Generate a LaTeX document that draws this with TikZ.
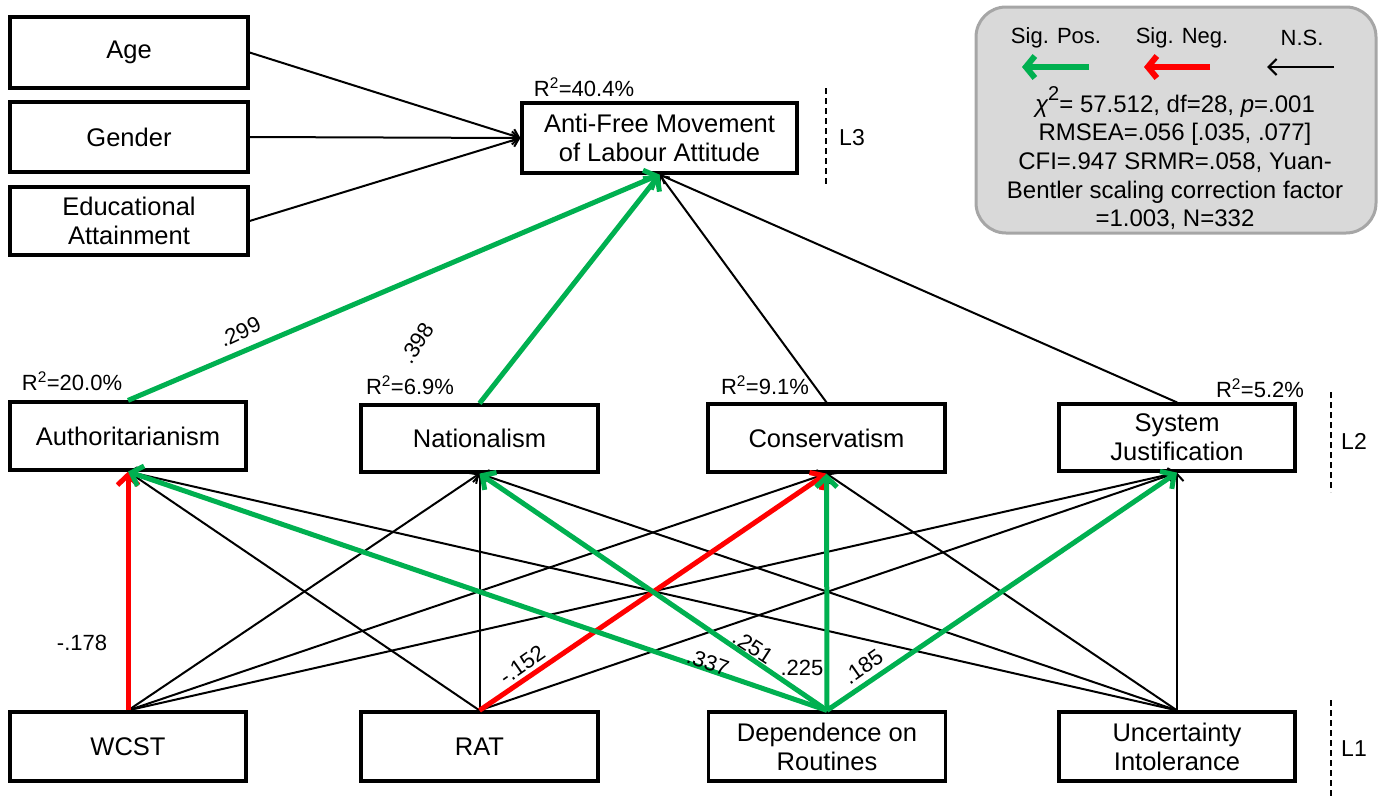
\documentclass[tikz,border=0pt]{standalone}
\usepackage{fontspec}
\usepackage{graphicx}
\setmainfont{Liberation Sans}
\usetikzlibrary{arrows.meta}
\definecolor{sgreen}{HTML}{00B050}
\definecolor{sred}{HTML}{FF0000}
\definecolor{leggray}{HTML}{D9D9D9}
\definecolor{legborder}{HTML}{A6A6A6}
\begin{document}
\begin{tikzpicture}[x=1pt,y=-1pt,
  box/.style={draw=black, line width=3.2pt, fill=white, minimum width=236pt, minimum height=68pt,
    align=center, inner sep=2pt, font=\fontsize{25.5}{29}\selectfont},
  nsarrow/.style={draw=black, line width=2pt, -{Straight Barb[length=7pt,width=13pt]}, line cap=round},
  posarrow/.style={draw=sgreen, line width=5pt, -{Straight Barb[length=10pt,width=21pt]}},
  negarrow/.style={draw=sred, line width=5pt, -{Straight Barb[length=10pt,width=21pt]}},
  lbl/.style={font=\fontsize{22}{24}\selectfont, inner sep=0pt},
  lev/.style={draw=black, line width=2pt, dash pattern=on 6pt off 4pt},
]
\useasboundingbox (0,0) rectangle (1381,796);

% legend
\node[draw=legborder, line width=3pt, fill=leggray, rounded corners=30pt,
  minimum width=400pt, minimum height=226pt] (leg) at (1176,120) {};
\node[lbl] (lpos) at (1056,38) {Sig. Pos.};
\node[lbl] (lneg) at (1182,38) {Sig. Neg.};
\node[lbl] (lns) at (1302,38) {N.S.};
\draw[draw=sgreen, line width=6pt, -{Straight Barb[length=9pt,width=22pt]}] (1089,67) -- (1022,67);
\draw[draw=sred, line width=6pt, -{Straight Barb[length=9pt,width=22pt]}] (1210,67) -- (1144,67);
\draw[draw=black, line width=2.2pt, -{Straight Barb[length=8pt,width=16pt]}] (1334,67) -- (1267,67);
\node[font=\fontsize{24}{28.7}\selectfont, align=center, inner sep=0pt] (stats) at (1175,158)
  {{\itshape χ}\raisebox{0.5em}{\fontsize{20}{20}\selectfont 2}= 57.512, df=28, {\itshape p}=.001\\
   RMSEA=.056 [.035, .077]\\
   CFI=.947 SRMR=.058, Yuan-\\
   Bentler scaling correction factor\\
   =1.003, N=332};

% boxes
\node[box, minimum width=238pt, minimum height=71pt] (age) at (129,52.5) {Age};
\node[box, minimum width=238pt, minimum height=70pt] (gen) at (129,137) {Gender};
\node[box, minimum width=238pt, minimum height=68pt] (edu) at (129,221) {Educational\\Attainment};
\node[box, minimum width=275pt, minimum height=70pt] (anti) at (659.5,138) {Anti-Free Movement\\of Labour Attitude};

\node[box] (auth) at (128,436) {Authoritarianism};
\node[box, minimum width=237pt, minimum height=67pt] (nat) at (479.5,438.5) {Nationalism};
\node[box, minimum width=237pt] (cons) at (826.5,438) {Conservatism};
\node[box, minimum height=67pt] (sysj) at (1177,437.5) {System\\Justification};

\node[box, minimum height=69pt] (wcst) at (128,746.5) {WCST};
\node[box, minimum width=237pt, minimum height=69pt] (rat) at (479.5,746.5) {RAT};
\node[box, minimum width=237pt, minimum height=69pt] (dep) at (827,746.5) {Dependence on\\Routines};
\node[box, minimum height=69pt] (unc) at (1177,746.5) {Uncertainty\\Intolerance};

% R^2 labels
\node[lbl] (r1) at (584,87) {R\textsuperscript{2}=40.4\%};
\node[lbl] (r2) at (72,381) {R\textsuperscript{2}=20.0\%};
\node[lbl] (r3) at (410,385) {R\textsuperscript{2}=6.9\%};
\node[lbl] (r4) at (765,385) {R\textsuperscript{2}=9.1\%};
\node[lbl] (r5) at (1260,388) {R\textsuperscript{2}=5.2\%};

% level markers
\draw[lev] (826,88) -- (826,187);
\node[lbl, font=\fontsize{23}{25}\selectfont] (l3) at (852,138) {L3};
\draw[lev] (1331,392) -- (1331,492);
\node[lbl, font=\fontsize{23}{25}\selectfont] (l2) at (1354,441) {L2};
\draw[lev] (1331,700) -- (1331,796);
\node[lbl, font=\fontsize{23}{25}\selectfont] (l1) at (1354,749) {L1};

% non-significant paths
\draw[nsarrow] (age.east) -- (anti.west);
\draw[nsarrow] (gen.east) -- (anti.west);
\draw[nsarrow] (edu.east) -- (anti.west);
\draw[nsarrow] (cons.north) -- (anti.south);
\draw[nsarrow] (sysj.north) -- (anti.south);

\draw[nsarrow] (wcst.north) -- (nat.south);
\draw[nsarrow] (wcst.north) -- (cons.south);
\draw[nsarrow] (wcst.north) -- (sysj.south);
\draw[nsarrow] (rat.north) -- (auth.south);
\draw[nsarrow] (rat.north) -- (nat.south);
\draw[nsarrow] (rat.north) -- (sysj.south);
\draw[nsarrow] (unc.north) -- (auth.south);
\draw[nsarrow] (unc.north) -- (nat.south);
\draw[nsarrow] (unc.north) -- (cons.south);
\draw[nsarrow] (unc.north) -- (sysj.south);

% significant negative
\draw[negarrow] (wcst.north) -- (auth.south);
\draw[negarrow] (rat.north) -- (cons.south);

% significant positive
\draw[posarrow] (auth.north) -- (anti.south);
\draw[posarrow] (nat.north) -- (anti.south);
\draw[posarrow] (dep.north) -- (auth.south);
\draw[posarrow] (dep.north) -- (nat.south);
\draw[posarrow] (dep.north) -- (cons.south);
\draw[posarrow] (dep.north) -- (sysj.south);

% coefficients
\node[lbl, rotate=25] (c1) at (240,332) {.299};
\node[lbl, rotate=57] (c2) at (417,343) {.398};
\node[lbl] (c3) at (82,643) {-.178};
\node[lbl, rotate=35] (c4) at (522,665) {-.152};
\node[lbl, rotate=-19] (c5) at (708,662) {.337};
\node[lbl, rotate=-33] (c6) at (753,647) {.251};
\node[lbl] (c7) at (802,668) {.225};
\node[lbl, rotate=35] (c8) at (863,667) {.185};
\end{tikzpicture}
\end{document}
